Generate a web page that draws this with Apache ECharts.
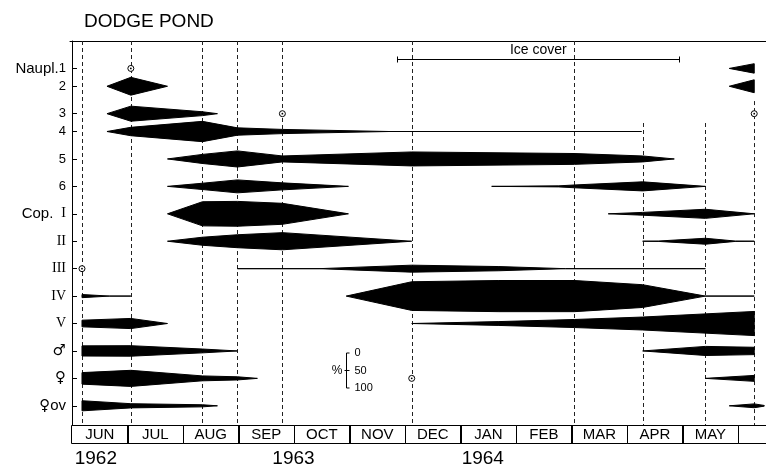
<!DOCTYPE html>
<html>
<head>
<meta charset="utf-8">
<title>Dodge Pond</title>
<script src="https://cdn.jsdelivr.net/npm/echarts@6/dist/echarts.min.js"></script>
<style>
  html, body { margin: 0; padding: 0; background: #fff; }
  #chart { width: 766px; height: 468px; }
</style>
</head>
<body>
<div id="chart"></div>
<script>
// Time is measured in months from 1 June; each kite segment is a list of
// [time, percent of population] points along one life-stage row.

const monthNames = ['JUN', 'JUL', 'AUG', 'SEP', 'OCT', 'NOV', 'DEC', 'JAN', 'FEB', 'MAR', 'APR', 'MAY', ''];
const yearLabels = ['1962', '1963', '1964'];
const yearTimes = [0.43, 3.99, 7.40];

const rowLabels = ['Naupl.1', '2', '3', '4', '5', '6', 'Cop. I', 'II', 'III', 'IV', 'V', '\u2642', '\u2640', '\u2640ov'];

// sampling dates (dashed verticals)
const sampleDates = [0.18, 1.06, 2.35, 2.98, 3.79, 6.12, 9.05, 10.28, 11.41, 12.29];

// stage abundance, % of population
const naupl1 = [[[11.84, 0], [12.29, 27]]];
const naupl2 = [[[0.63, 0], [1.06, 51], [1.72, 0]], [[11.84, 0], [12.29, 37]]];
const naupl3 = [[[0.63, 0], [1.06, 43], [2.35, 11], [2.62, 0]]];
const naupl4 = [[[0.63, 0], [1.06, 24], [2.35, 58], [2.98, 21], [3.79, 12], [5.71, 0], [10.26, 0]]];
const naupl5 = [[[1.72, 0], [2.35, 26], [2.98, 46], [3.79, 17], [6.12, 40], [9.05, 31], [10.28, 17], [10.85, 0]]];
const naupl6 = [[[1.72, 0], [2.35, 18], [2.98, 37], [3.79, 20], [4.98, 0]],
                [[7.56, 0], [8.77, 3], [9.05, 8], [10.28, 26], [11.41, 0]]];
const copI   = [[[1.72, 0], [2.35, 69], [2.98, 71], [3.79, 60], [4.98, 0]],
                [[9.66, 0], [10.28, 8], [11.41, 26], [12.29, 0]]];
const copII  = [[[1.72, 0], [2.35, 23], [2.98, 37], [3.79, 49], [6.12, 0]],
                [[10.28, 0], [10.56, 1], [11.41, 17], [11.95, 1], [12.29, 0]]];
const copIII = [[[2.98, 0], [4.45, 0], [6.12, 20], [7.69, 12], [8.89, 0], [11.41, 0]]];
const copIV  = [[[0.18, 9], [0.68, 0], [1.06, 0]],
                [[4.94, 0], [6.12, 82], [7.69, 89], [9.05, 89], [10.28, 65], [11.41, 0], [12.29, 0]]];
const copV   = [[[0.18, 19], [1.06, 29], [1.72, 0]],
                [[6.12, 0], [7.69, 11], [9.05, 23], [10.28, 37], [12.29, 69]]];
const males  = [[[0.18, 29], [1.06, 30], [2.35, 11], [2.98, 0]], [[10.28, 0], [11.41, 26], [12.29, 21]]];
const females = [[[0.18, 33], [1.06, 46], [2.35, 14], [2.98, 9], [3.34, 0]], [[11.41, 0], [12.29, 17]]];
const femalesOv = [[[0.18, 29], [1.06, 12], [2.35, 6], [2.62, 0]], [[11.84, 0], [12.29, 11], [12.47, 2]]];

const stageRows = [naupl1, naupl2, naupl3, naupl4, naupl5, naupl6, copI, copII, copIII, copIV, copV, males, females, femalesOv];

// present but below 1 %: [time, row index]
const tracePoints = [[1.06, 0], [3.79, 2], [12.29, 2], [0.18, 8], [6.12, 12]];

const iceCover = [5.86, 10.94];
const scaleTicks = [0, 50, 100];

// ---- layout ----
const X_MIN = -0.036, X_MAX = 12.502;
const ROW_POS = [1.0, 1.65, 2.65, 3.3, 4.3, 5.3, 6.3, 7.3, 8.3, 9.3, 10.3, 11.3, 12.3, 13.3];
const Y_MAX = 14;
const HALF = 0.638;            // half kite thickness for 100 %, in row units
const SAMPLE_TOP = [0, 0, 0, 0, 0, 0, 0, 2.99, 2.99, 2.19];
const ICE_LEVEL = 0.656;
const SCALE_POS = [4.94, 11.375];
const FONT = 'Liberation Sans, Arial, sans-serif';

function crisp(v) { return Math.round(v) + 0.5; }

function labelMarkup(s) {
  if (s.indexOf('Naupl.') === 0) return '{pre|Naupl.}{num|' + s.slice(6) + '}';
  if (s.indexOf('Cop. ') === 0) return '{pre|Cop.}{gap|}{rom|' + s.slice(5) + '}';
  if (/^[IVX]+$/.test(s)) return '{rom|' + s + '}';
  if (/^\d+$/.test(s)) return '{num|' + s + '}';
  if (s.length > 1) return '{sym|' + s[0] + '}{ov|' + s.slice(1) + '}';
  return '{sym|' + s + '}';
}

const kiteData = [];
stageRows.forEach((row, r) => row.forEach((seg, s) => kiteData.push([r, s])));

const chart = echarts.init(document.getElementById('chart'), null, { renderer: 'canvas' });

chart.setOption({
  animation: false,
  backgroundColor: '#fff',
  title: {
    text: 'DODGE POND', left: 79, top: 7,
    textStyle: { fontFamily: FONT, fontSize: 19, fontWeight: 'normal', color: '#000' }
  },
  grid: [
    { left: 70, top: 41, width: 698, height: 384 },
    { left: 70, top: 425, width: 698, height: 18 }
  ],
  xAxis: [
    { type: 'value', gridIndex: 0, min: X_MIN, max: X_MAX, show: false },
    { type: 'value', gridIndex: 1, min: X_MIN, max: X_MAX, show: false },
    {
      type: 'value', gridIndex: 0, position: 'top', min: X_MIN, max: X_MAX,
      axisLine: { show: true, lineStyle: { color: '#000', width: 1 } },
      axisTick: { show: false }, axisLabel: { show: false }, splitLine: { show: false }
    }
  ],
  yAxis: [
    {
      type: 'value', gridIndex: 0, inverse: true, min: 0, max: Y_MAX,
      splitLine: { show: false },
      axisLine: { show: true, lineStyle: { color: '#000', width: 1 } },
      axisTick: { show: true, inside: true, length: 5, customValues: ROW_POS, lineStyle: { color: '#000' } },
      axisLabel: {
        customValues: ROW_POS, margin: 4, color: '#000',
        formatter: function (v) {
          for (let i = 0; i < ROW_POS.length; i++) {
            if (Math.abs(ROW_POS[i] - v) < 1e-6) return labelMarkup(rowLabels[i]);
          }
          return '';
        },
        rich: {
          pre: { fontFamily: FONT, fontSize: 15, color: '#000' },
          num: { fontFamily: FONT, fontSize: 13, color: '#000' },
          gap: { width: 8 },
          rom: { fontFamily: 'Liberation Serif, Times New Roman, serif', fontSize: 14, color: '#000' },
          sym: { fontFamily: 'DejaVu Sans, sans-serif', fontSize: 15, color: '#000' },
          ov: { fontFamily: FONT, fontSize: 15, color: '#000' }
        }
      }
    },
    { type: 'value', gridIndex: 1, min: 0, max: 1, show: false }
  ],
  series: [
    // sampling dates
    {
      type: 'custom', xAxisIndex: 0, yAxisIndex: 0, z: 1,
      data: sampleDates.map((t, i) => [t, SAMPLE_TOP[i]]),
      renderItem: function (params, api) {
        const a = api.coord([api.value(0), api.value(1)]);
        const b = api.coord([api.value(0), Y_MAX]);
        const x = crisp(a[0]);
        return {
          type: 'line',
          shape: { x1: x, y1: a[1], x2: x, y2: b[1] },
          style: { stroke: '#222', lineWidth: 1, lineDash: [4, 3] }
        };
      }
    },
    // stage kites
    {
      type: 'custom', xAxisIndex: 0, yAxisIndex: 0, z: 2,
      data: kiteData,
      renderItem: function (params, api) {
        const r = api.value(0), s = api.value(1);
        const pts = stageRows[r][s];
        const yc = ROW_POS[r];
        const upper = pts.map(p => api.coord([p[0], yc - p[1] / 100 * HALF]));
        const lower = pts.slice().reverse().map(p => api.coord([p[0], yc + p[1] / 100 * HALF]));
        return {
          type: 'polygon',
          shape: { points: upper.concat(lower) },
          style: { fill: '#000', stroke: '#000', lineWidth: 1, lineJoin: 'round' }
        };
      }
    },
    // trace occurrences
    {
      type: 'custom', xAxisIndex: 0, yAxisIndex: 0, z: 3,
      data: tracePoints.map(p => [p[0], ROW_POS[p[1]]]),
      renderItem: function (params, api) {
        const c = api.coord([api.value(0), api.value(1)]);
        return {
          type: 'group',
          children: [
            { type: 'circle', shape: { cx: c[0], cy: c[1], r: 3 }, style: { fill: '#fff', stroke: '#000', lineWidth: 1 } },
            { type: 'circle', shape: { cx: c[0], cy: c[1], r: 0.9 }, style: { fill: '#000' } }
          ]
        };
      }
    },
    // ice cover
    {
      type: 'custom', xAxisIndex: 0, yAxisIndex: 0, z: 3,
      data: [[iceCover[0], iceCover[1]]],
      renderItem: function (params, api) {
        const a = api.coord([api.value(0), ICE_LEVEL]);
        const b = api.coord([api.value(1), ICE_LEVEL]);
        const y = crisp(a[1]);
        return {
          type: 'group',
          children: [
            { type: 'line', shape: { x1: a[0], y1: y, x2: b[0], y2: y }, style: { stroke: '#000', lineWidth: 1 } },
            { type: 'line', shape: { x1: crisp(a[0]), y1: y - 3, x2: crisp(a[0]), y2: y + 3 }, style: { stroke: '#000', lineWidth: 1 } },
            { type: 'line', shape: { x1: crisp(b[0]), y1: y - 3, x2: crisp(b[0]), y2: y + 3 }, style: { stroke: '#000', lineWidth: 1 } },
            { type: 'text', style: { text: 'Ice cover', x: (a[0] + b[0]) / 2, y: y - 9, align: 'center', verticalAlign: 'middle', font: '14px ' + FONT, fill: '#000' } }
          ]
        };
      }
    },
    // percentage scale
    {
      type: 'custom', xAxisIndex: 0, yAxisIndex: 0, z: 3,
      data: [SCALE_POS],
      renderItem: function (params, api) {
        const t = api.value(0), top = api.value(1);
        const ys = scaleTicks.map(v => api.coord([t, top + 2 * HALF * v / 100])[1]);
        const x = crisp(api.coord([t, top])[0]);
        const children = [
          { type: 'polyline', shape: { points: [[x + 3, ys[0]], [x, ys[0]], [x, ys[2]], [x + 3, ys[2]]] }, style: { fill: 'none', stroke: '#000', lineWidth: 1 } },
          { type: 'line', shape: { x1: x - 2, y1: ys[1], x2: x + 3, y2: ys[1] }, style: { stroke: '#000', lineWidth: 1 } },
          { type: 'text', style: { text: '%', x: x - 4, y: ys[1], align: 'right', verticalAlign: 'middle', font: '12px ' + FONT, fill: '#000' } }
        ];
        scaleTicks.forEach((v, i) => children.push({
          type: 'text', style: { text: String(v), x: x + 8, y: ys[i], align: 'left', verticalAlign: 'middle', font: '11px ' + FONT, fill: '#000' }
        }));
        return { type: 'group', children: children };
      }
    },
    // year labels
    {
      type: 'custom', xAxisIndex: 0, yAxisIndex: 0, z: 3,
      data: yearTimes.map((t, i) => [t, i]),
      renderItem: function (params, api) {
        const p = api.coord([api.value(0), Y_MAX]);
        return {
          type: 'text',
          style: { text: yearLabels[api.value(1)], x: p[0], y: p[1] + 34, align: 'center', verticalAlign: 'middle', font: '19px ' + FONT, fill: '#000' }
        };
      }
    },
    // month strip
    {
      type: 'custom', xAxisIndex: 1, yAxisIndex: 1, z: 3,
      data: monthNames.map((m, i) => [i, 0]),
      renderItem: function (params, api) {
        const k = api.value(0);
        const a = api.coord([Math.max(k, X_MIN), 1]);
        const b = api.coord([Math.min(k + 1, X_MAX), 0]);
        const x0 = Math.floor(a[0]) + 0.5, x1 = crisp(b[0]);
        const y0 = Math.round(a[1]) + 0.5, y1 = Math.round(b[1]) + 0.5;
        return {
          type: 'group',
          children: [
            { type: 'rect', shape: { x: x0, y: y0, width: x1 - x0, height: y1 - y0 }, style: { fill: 'none', stroke: '#000', lineWidth: 1 } },
            { type: 'text', style: { text: monthNames[k], x: (a[0] + b[0]) / 2, y: (a[1] + b[1]) / 2 + 0.5, align: 'center', verticalAlign: 'middle', font: '15px ' + FONT, fill: '#000' } }
          ]
        };
      }
    }
  ]
});
</script>
</body>
</html>
